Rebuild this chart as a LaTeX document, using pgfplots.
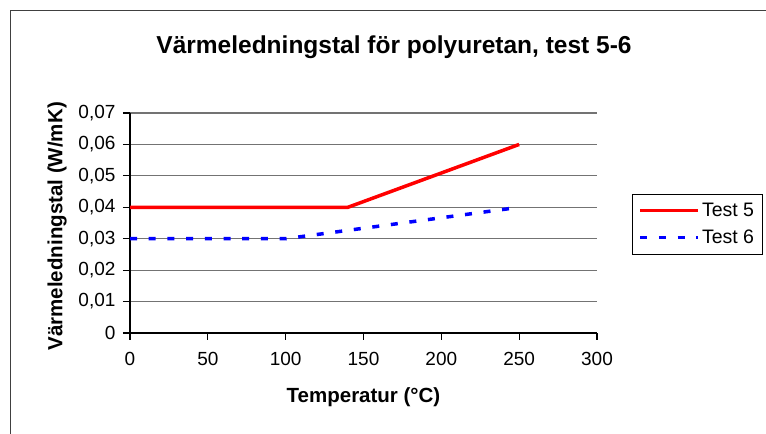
\documentclass[border=0pt]{standalone}
\usepackage{pgfplots}
\pgfplotsset{compat=1.18}
\usepackage{fontspec}
\setmainfont{Liberation Sans}
\begin{document}
\begin{tikzpicture}
\useasboundingbox (0,0) rectangle (766bp,434bp);
\draw[line width=1.6bp, black!75] (10.5bp,-5bp) -- (10.5bp,423.5bp) -- (780bp,423.5bp);
\node[font=\fontsize{24.5bp}{28bp}\selectfont\bfseries] at (394bp,387bp) {Värmeledningstal för polyuretan, test 5-6};
\begin{axis}[
  at={(130bp,101bp)}, anchor=south west,
  width=467bp, height=220bp, scale only axis,
  xmin=0, xmax=300, ymin=0, ymax=0.07,
  xtick={0,50,...,300},
  ytick={0,0.01,...,0.07},
  scaled y ticks=false,
  yticklabels={0,{0,01},{0,02},{0,03},{0,04},{0,05},{0,06},{0,07}},
  axis lines=left,
  axis line style={line width=1.2bp, black, -},
  ymajorgrids,
  grid style={line width=1.2bp, black!55},
  tick style={line width=1.2bp, black},
  tick align=outside,
  major tick length=7bp,
  /pgf/number format/assume math mode=true,
  ticklabel style={font=\fontsize{19bp}{22bp}\selectfont},
  xticklabel style={yshift=-9bp},
  yticklabel style={xshift=-4bp},
  xlabel={Temperatur (°C)},
  ylabel={Värmeledningstal (W/mK)},
  label style={font=\fontsize{20.5bp}{24bp}\selectfont\bfseries},
  xlabel style={at={(axis description cs:0.5,-0.291)}, anchor=center},
  ylabel style={at={(axis description cs:-0.156,0.485)}, anchor=center},
  legend style={at={(1.075,0.495)}, anchor=west, draw=black, line width=1bp,
    font=\fontsize{19.5bp}{22bp}\selectfont, inner xsep=6bp, inner ysep=7bp, row sep=8bp,
    cells={anchor=west}},
  legend image code/.code={\draw[#1] (0bp,0bp) -- (58bp,0bp);},
  clip=false,
]
\addplot[red, line width=3.5bp] coordinates {(0,0.04) (140,0.04) (250,0.06)};
\addlegendentry{Test 5}
\addplot[blue, line width=3.5bp, dash pattern=on 7bp off 11.7bp] coordinates {(0,0.03) (100,0.03) (250,0.04)};
\addlegendentry{Test 6}
\end{axis}
\end{tikzpicture}
\end{document}
